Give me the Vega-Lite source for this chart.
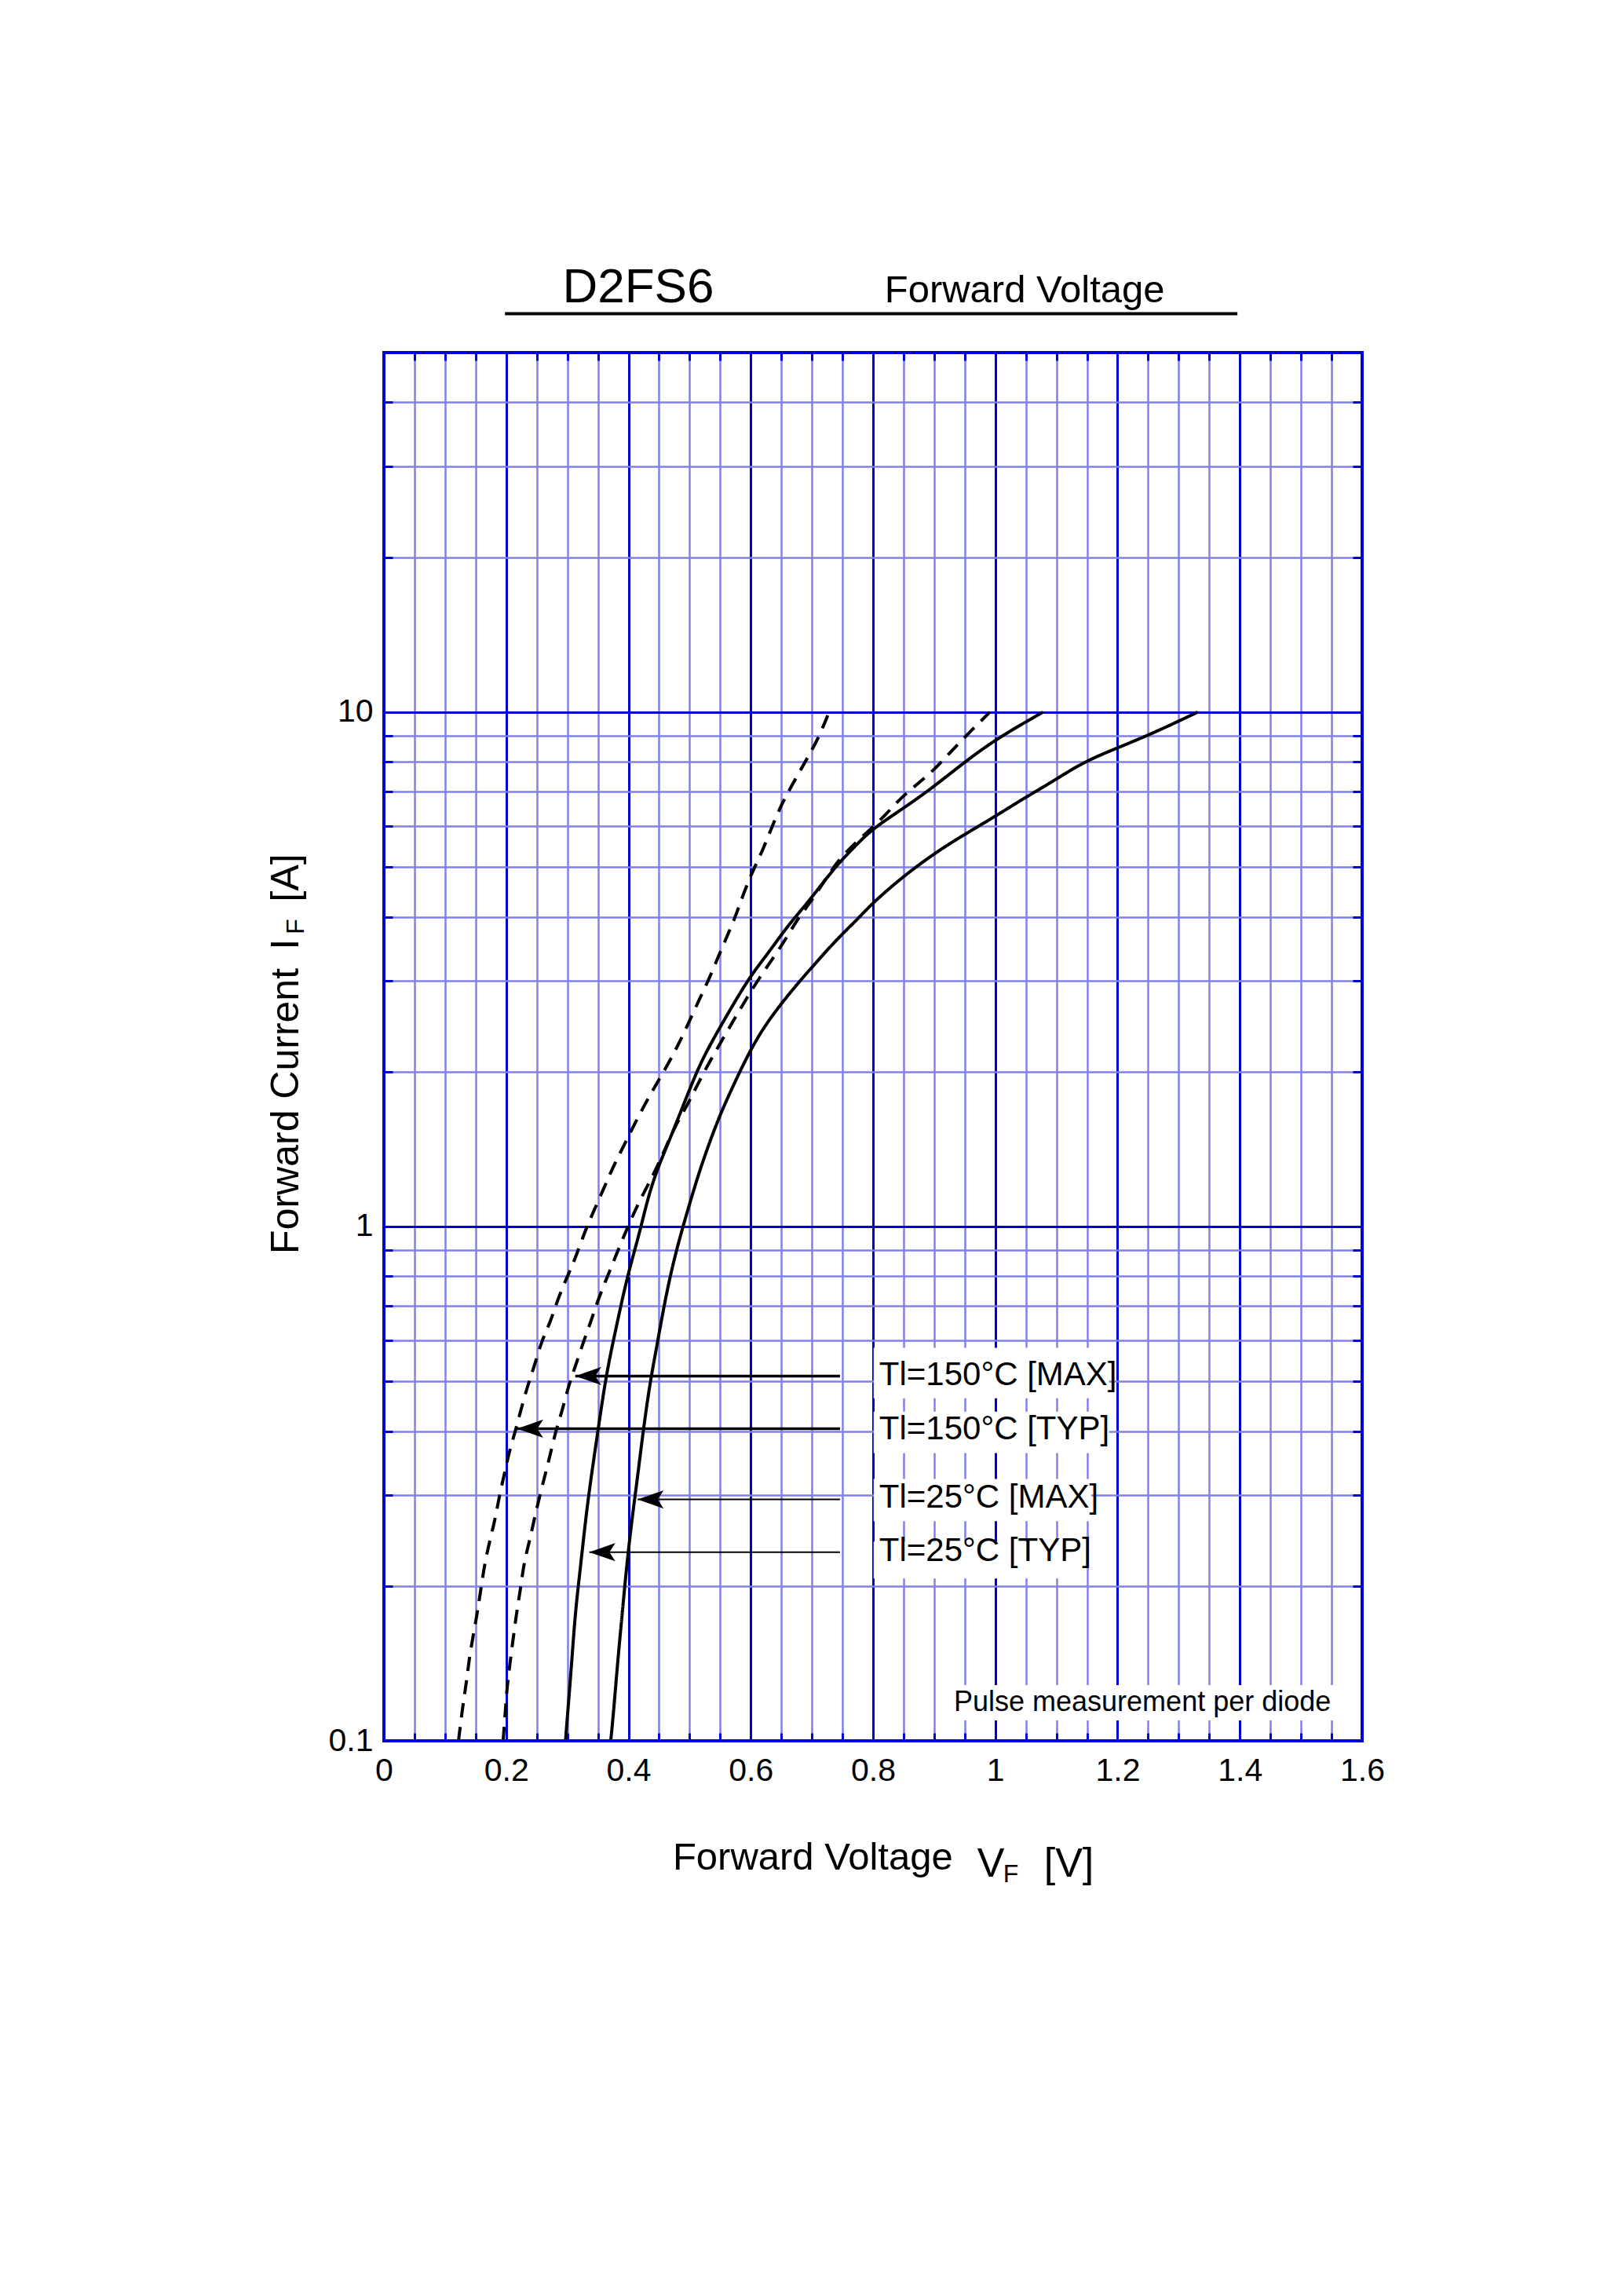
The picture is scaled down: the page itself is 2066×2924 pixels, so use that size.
{
  "$schema": "https://vega.github.io/schema/vega-lite/v6.json",
  "width": 1246,
  "height": 1768,
  "autosize": "none",
  "padding": {"left": 489, "top": 449, "right": 331, "bottom": 707},
  "background": "white",
  "config": {
    "font": "Liberation Sans",
    "view": {"stroke": null}
  },
  "datasets": {
    "curves": [
      {"curve": "150TYP", "kind": "dashed", "v": 0.122, "i": 0.1},
      {"curve": "150TYP", "kind": "dashed", "v": 0.129, "i": 0.117},
      {"curve": "150TYP", "kind": "dashed", "v": 0.135, "i": 0.13},
      {"curve": "150TYP", "kind": "dashed", "v": 0.14, "i": 0.146},
      {"curve": "150TYP", "kind": "dashed", "v": 0.148, "i": 0.165},
      {"curve": "150TYP", "kind": "dashed", "v": 0.154, "i": 0.181},
      {"curve": "150TYP", "kind": "dashed", "v": 0.159, "i": 0.199},
      {"curve": "150TYP", "kind": "dashed", "v": 0.166, "i": 0.225},
      {"curve": "150TYP", "kind": "dashed", "v": 0.175, "i": 0.25},
      {"curve": "150TYP", "kind": "dashed", "v": 0.182, "i": 0.27},
      {"curve": "150TYP", "kind": "dashed", "v": 0.189, "i": 0.3},
      {"curve": "150TYP", "kind": "dashed", "v": 0.197, "i": 0.33},
      {"curve": "150TYP", "kind": "dashed", "v": 0.205, "i": 0.365},
      {"curve": "150TYP", "kind": "dashed", "v": 0.215, "i": 0.4},
      {"curve": "150TYP", "kind": "dashed", "v": 0.224, "i": 0.44},
      {"curve": "150TYP", "kind": "dashed", "v": 0.235, "i": 0.49},
      {"curve": "150TYP", "kind": "dashed", "v": 0.245, "i": 0.53},
      {"curve": "150TYP", "kind": "dashed", "v": 0.258, "i": 0.6},
      {"curve": "150TYP", "kind": "dashed", "v": 0.272, "i": 0.65},
      {"curve": "150TYP", "kind": "dashed", "v": 0.284, "i": 0.72},
      {"curve": "150TYP", "kind": "dashed", "v": 0.298, "i": 0.79},
      {"curve": "150TYP", "kind": "dashed", "v": 0.312, "i": 0.86},
      {"curve": "150TYP", "kind": "dashed", "v": 0.329, "i": 0.98},
      {"curve": "150TYP", "kind": "dashed", "v": 0.342, "i": 1.064},
      {"curve": "150TYP", "kind": "dashed", "v": 0.359, "i": 1.18},
      {"curve": "150TYP", "kind": "dashed", "v": 0.374, "i": 1.3},
      {"curve": "150TYP", "kind": "dashed", "v": 0.391, "i": 1.425},
      {"curve": "150TYP", "kind": "dashed", "v": 0.408, "i": 1.565},
      {"curve": "150TYP", "kind": "dashed", "v": 0.427, "i": 1.73},
      {"curve": "150TYP", "kind": "dashed", "v": 0.444, "i": 1.877},
      {"curve": "150TYP", "kind": "dashed", "v": 0.464, "i": 2.06},
      {"curve": "150TYP", "kind": "dashed", "v": 0.481, "i": 2.25},
      {"curve": "150TYP", "kind": "dashed", "v": 0.498, "i": 2.48},
      {"curve": "150TYP", "kind": "dashed", "v": 0.515, "i": 2.75},
      {"curve": "150TYP", "kind": "dashed", "v": 0.532, "i": 3.03},
      {"curve": "150TYP", "kind": "dashed", "v": 0.547, "i": 3.35},
      {"curve": "150TYP", "kind": "dashed", "v": 0.562, "i": 3.68},
      {"curve": "150TYP", "kind": "dashed", "v": 0.577, "i": 4.06},
      {"curve": "150TYP", "kind": "dashed", "v": 0.59, "i": 4.5},
      {"curve": "150TYP", "kind": "dashed", "v": 0.605, "i": 4.96},
      {"curve": "150TYP", "kind": "dashed", "v": 0.62, "i": 5.4},
      {"curve": "150TYP", "kind": "dashed", "v": 0.635, "i": 6.0},
      {"curve": "150TYP", "kind": "dashed", "v": 0.65, "i": 6.6},
      {"curve": "150TYP", "kind": "dashed", "v": 0.667, "i": 7.2},
      {"curve": "150TYP", "kind": "dashed", "v": 0.689, "i": 8.0},
      {"curve": "150TYP", "kind": "dashed", "v": 0.711, "i": 8.9},
      {"curve": "150TYP", "kind": "dashed", "v": 0.728, "i": 10},
      {"curve": "150MAX", "kind": "dashed", "v": 0.195, "i": 0.1},
      {"curve": "150MAX", "kind": "dashed", "v": 0.198, "i": 0.111},
      {"curve": "150MAX", "kind": "dashed", "v": 0.201, "i": 0.126},
      {"curve": "150MAX", "kind": "dashed", "v": 0.206, "i": 0.141},
      {"curve": "150MAX", "kind": "dashed", "v": 0.212, "i": 0.16},
      {"curve": "150MAX", "kind": "dashed", "v": 0.218, "i": 0.181},
      {"curve": "150MAX", "kind": "dashed", "v": 0.224, "i": 0.199},
      {"curve": "150MAX", "kind": "dashed", "v": 0.229, "i": 0.222},
      {"curve": "150MAX", "kind": "dashed", "v": 0.238, "i": 0.244},
      {"curve": "150MAX", "kind": "dashed", "v": 0.246, "i": 0.27},
      {"curve": "150MAX", "kind": "dashed", "v": 0.255, "i": 0.3},
      {"curve": "150MAX", "kind": "dashed", "v": 0.264, "i": 0.33},
      {"curve": "150MAX", "kind": "dashed", "v": 0.272, "i": 0.36},
      {"curve": "150MAX", "kind": "dashed", "v": 0.281, "i": 0.4},
      {"curve": "150MAX", "kind": "dashed", "v": 0.292, "i": 0.44},
      {"curve": "150MAX", "kind": "dashed", "v": 0.302, "i": 0.49},
      {"curve": "150MAX", "kind": "dashed", "v": 0.312, "i": 0.53},
      {"curve": "150MAX", "kind": "dashed", "v": 0.327, "i": 0.6},
      {"curve": "150MAX", "kind": "dashed", "v": 0.338, "i": 0.65},
      {"curve": "150MAX", "kind": "dashed", "v": 0.35, "i": 0.72},
      {"curve": "150MAX", "kind": "dashed", "v": 0.364, "i": 0.79},
      {"curve": "150MAX", "kind": "dashed", "v": 0.378, "i": 0.87},
      {"curve": "150MAX", "kind": "dashed", "v": 0.396, "i": 0.98},
      {"curve": "150MAX", "kind": "dashed", "v": 0.409, "i": 1.064},
      {"curve": "150MAX", "kind": "dashed", "v": 0.427, "i": 1.175},
      {"curve": "150MAX", "kind": "dashed", "v": 0.444, "i": 1.283},
      {"curve": "150MAX", "kind": "dashed", "v": 0.461, "i": 1.425},
      {"curve": "150MAX", "kind": "dashed", "v": 0.476, "i": 1.565},
      {"curve": "150MAX", "kind": "dashed", "v": 0.496, "i": 1.72},
      {"curve": "150MAX", "kind": "dashed", "v": 0.513, "i": 1.887},
      {"curve": "150MAX", "kind": "dashed", "v": 0.532, "i": 2.085},
      {"curve": "150MAX", "kind": "dashed", "v": 0.553, "i": 2.3},
      {"curve": "150MAX", "kind": "dashed", "v": 0.573, "i": 2.53},
      {"curve": "150MAX", "kind": "dashed", "v": 0.592, "i": 2.76},
      {"curve": "150MAX", "kind": "dashed", "v": 0.613, "i": 3.03},
      {"curve": "150MAX", "kind": "dashed", "v": 0.637, "i": 3.33},
      {"curve": "150MAX", "kind": "dashed", "v": 0.658, "i": 3.63},
      {"curve": "150MAX", "kind": "dashed", "v": 0.677, "i": 3.97},
      {"curve": "150MAX", "kind": "dashed", "v": 0.698, "i": 4.27},
      {"curve": "150MAX", "kind": "dashed", "v": 0.72, "i": 4.69},
      {"curve": "150MAX", "kind": "dashed", "v": 0.743, "i": 5.15},
      {"curve": "150MAX", "kind": "dashed", "v": 0.771, "i": 5.57},
      {"curve": "150MAX", "kind": "dashed", "v": 0.794, "i": 5.89},
      {"curve": "150MAX", "kind": "dashed", "v": 0.82, "i": 6.3},
      {"curve": "150MAX", "kind": "dashed", "v": 0.847, "i": 6.84},
      {"curve": "150MAX", "kind": "dashed", "v": 0.874, "i": 7.27},
      {"curve": "150MAX", "kind": "dashed", "v": 0.901, "i": 7.74},
      {"curve": "150MAX", "kind": "dashed", "v": 0.928, "i": 8.4},
      {"curve": "150MAX", "kind": "dashed", "v": 0.955, "i": 9.06},
      {"curve": "150MAX", "kind": "dashed", "v": 0.991, "i": 10},
      {"curve": "25TYP", "kind": "solid", "v": 0.297, "i": 0.1},
      {"curve": "25TYP", "kind": "solid", "v": 0.301, "i": 0.115},
      {"curve": "25TYP", "kind": "solid", "v": 0.307, "i": 0.141},
      {"curve": "25TYP", "kind": "solid", "v": 0.313, "i": 0.178},
      {"curve": "25TYP", "kind": "solid", "v": 0.321, "i": 0.215},
      {"curve": "25TYP", "kind": "solid", "v": 0.33, "i": 0.27},
      {"curve": "25TYP", "kind": "solid", "v": 0.338, "i": 0.32},
      {"curve": "25TYP", "kind": "solid", "v": 0.35, "i": 0.4},
      {"curve": "25TYP", "kind": "solid", "v": 0.364, "i": 0.52},
      {"curve": "25TYP", "kind": "solid", "v": 0.381, "i": 0.645},
      {"curve": "25TYP", "kind": "solid", "v": 0.398, "i": 0.8},
      {"curve": "25TYP", "kind": "solid", "v": 0.418, "i": 0.969},
      {"curve": "25TYP", "kind": "solid", "v": 0.431, "i": 1.128},
      {"curve": "25TYP", "kind": "solid", "v": 0.446, "i": 1.283},
      {"curve": "25TYP", "kind": "solid", "v": 0.464, "i": 1.442},
      {"curve": "25TYP", "kind": "solid", "v": 0.481, "i": 1.62},
      {"curve": "25TYP", "kind": "solid", "v": 0.498, "i": 1.822},
      {"curve": "25TYP", "kind": "solid", "v": 0.519, "i": 2.097},
      {"curve": "25TYP", "kind": "solid", "v": 0.545, "i": 2.385},
      {"curve": "25TYP", "kind": "solid", "v": 0.575, "i": 2.75},
      {"curve": "25TYP", "kind": "solid", "v": 0.601, "i": 3.086},
      {"curve": "25TYP", "kind": "solid", "v": 0.631, "i": 3.43},
      {"curve": "25TYP", "kind": "solid", "v": 0.661, "i": 3.85},
      {"curve": "25TYP", "kind": "solid", "v": 0.691, "i": 4.23},
      {"curve": "25TYP", "kind": "solid", "v": 0.72, "i": 4.69},
      {"curve": "25TYP", "kind": "solid", "v": 0.743, "i": 5.07},
      {"curve": "25TYP", "kind": "solid", "v": 0.77, "i": 5.48},
      {"curve": "25TYP", "kind": "solid", "v": 0.799, "i": 5.93},
      {"curve": "25TYP", "kind": "solid", "v": 0.847, "i": 6.47},
      {"curve": "25TYP", "kind": "solid", "v": 0.892, "i": 7.05},
      {"curve": "25TYP", "kind": "solid", "v": 0.946, "i": 7.93},
      {"curve": "25TYP", "kind": "solid", "v": 1.0, "i": 8.85},
      {"curve": "25TYP", "kind": "solid", "v": 1.078, "i": 10},
      {"curve": "25MAX", "kind": "solid", "v": 0.371, "i": 0.1},
      {"curve": "25MAX", "kind": "solid", "v": 0.376, "i": 0.115},
      {"curve": "25MAX", "kind": "solid", "v": 0.382, "i": 0.141},
      {"curve": "25MAX", "kind": "solid", "v": 0.39, "i": 0.178},
      {"curve": "25MAX", "kind": "solid", "v": 0.398, "i": 0.225},
      {"curve": "25MAX", "kind": "solid", "v": 0.407, "i": 0.277},
      {"curve": "25MAX", "kind": "solid", "v": 0.4155, "i": 0.33},
      {"curve": "25MAX", "kind": "solid", "v": 0.424, "i": 0.4},
      {"curve": "25MAX", "kind": "solid", "v": 0.4355, "i": 0.5},
      {"curve": "25MAX", "kind": "solid", "v": 0.447, "i": 0.59},
      {"curve": "25MAX", "kind": "solid", "v": 0.458, "i": 0.7},
      {"curve": "25MAX", "kind": "solid", "v": 0.472, "i": 0.84},
      {"curve": "25MAX", "kind": "solid", "v": 0.487, "i": 0.98},
      {"curve": "25MAX", "kind": "solid", "v": 0.502, "i": 1.128},
      {"curve": "25MAX", "kind": "solid", "v": 0.519, "i": 1.314},
      {"curve": "25MAX", "kind": "solid", "v": 0.545, "i": 1.6},
      {"curve": "25MAX", "kind": "solid", "v": 0.566, "i": 1.82},
      {"curve": "25MAX", "kind": "solid", "v": 0.588, "i": 2.07},
      {"curve": "25MAX", "kind": "solid", "v": 0.613, "i": 2.357},
      {"curve": "25MAX", "kind": "solid", "v": 0.643, "i": 2.65},
      {"curve": "25MAX", "kind": "solid", "v": 0.678, "i": 2.98},
      {"curve": "25MAX", "kind": "solid", "v": 0.708, "i": 3.27},
      {"curve": "25MAX", "kind": "solid", "v": 0.742, "i": 3.63},
      {"curve": "25MAX", "kind": "solid", "v": 0.776, "i": 3.97},
      {"curve": "25MAX", "kind": "solid", "v": 0.797, "i": 4.23},
      {"curve": "25MAX", "kind": "solid", "v": 0.847, "i": 4.77},
      {"curve": "25MAX", "kind": "solid", "v": 0.901, "i": 5.32},
      {"curve": "25MAX", "kind": "solid", "v": 0.946, "i": 5.75},
      {"curve": "25MAX", "kind": "solid", "v": 1.0, "i": 6.27},
      {"curve": "25MAX", "kind": "solid", "v": 1.045, "i": 6.78},
      {"curve": "25MAX", "kind": "solid", "v": 1.09, "i": 7.28},
      {"curve": "25MAX", "kind": "solid", "v": 1.144, "i": 8.0},
      {"curve": "25MAX", "kind": "solid", "v": 1.198, "i": 8.5},
      {"curve": "25MAX", "kind": "solid", "v": 1.261, "i": 9.13},
      {"curve": "25MAX", "kind": "solid", "v": 1.331, "i": 10}
    ],
    "arrows": [
      {"temp": "150", "v": 0.313, "v2": 0.746, "i": 0.512},
      {"temp": "150", "v": 0.218, "v2": 0.746, "i": 0.4045},
      {"temp": "25", "v": 0.415, "v2": 0.746, "i": 0.2946},
      {"temp": "25", "v": 0.336, "v2": 0.746, "i": 0.2327}
    ],
    "boxes": [
      {"v": 0.801, "v2": 1.186, "i": 0.4636, "i2": 0.581},
      {"v": 0.801, "v2": 1.186, "i": 0.3626, "i2": 0.4365},
      {"v": 0.801, "v2": 1.157, "i": 0.2673, "i2": 0.3228},
      {"v": 0.801, "v2": 1.144, "i": 0.2068, "i2": 0.2439},
      {"v": 0.928, "v2": 1.561, "i": 0.1096, "i2": 0.1283}
    ],
    "labels": [
      {"label": "Tl=150°C [MAX]", "v": 0.81, "i": 0.492},
      {"label": "Tl=150°C [TYP]", "v": 0.81, "i": 0.385},
      {"label": "Tl=25°C [MAX]", "v": 0.81, "i": 0.2838},
      {"label": "Tl=25°C [TYP]", "v": 0.81, "i": 0.2234}
    ],
    "notes": [
      {"role": "model", "text": "D2FS6", "v": 0.416, "i": 62.7},
      {"role": "caption", "text": "Forward  Voltage", "v": 1.048, "i": 62.7},
      {"role": "pulse", "text": "Pulse  measurement  per  diode", "v": 1.549, "i": 0.1143},
      {"role": "xt", "text": "Forward Voltage", "v": 0.4724, "i": 0.05623},
      {"role": "xsym", "text": "V", "v": 0.9705, "i": 0.0545},
      {"role": "xsub", "text": "F", "v": 1.0128, "i": 0.05315},
      {"role": "xsym", "text": "[V]", "v": 1.0796, "i": 0.0545},
      {"role": "yt", "text": "Forward Current", "v": -0.14, "i": 0.8843},
      {"role": "yt", "text": "I", "v": -0.14, "i": 3.452},
      {"role": "ysub", "text": "F", "v": -0.131, "i": 3.7},
      {"role": "yt", "text": "[A]", "v": -0.14, "i": 4.277}
    ],
    "frame": [
      {"v": 0, "v2": 1.6, "i": 0.1, "i2": 50}
    ],
    "underline": [
      {"v": 0.198, "v2": 1.396, "i": 59.5}
    ]
  },
  "encoding": {
    "x": {"field": "v", "type": "quantitative", "scale": {"domain": [0, 1.6], "nice": false, "zero": false}, "axis": null},
    "y": {"field": "i", "type": "quantitative", "scale": {"type": "log", "domain": [0.1, 50], "nice": false}, "axis": null}
  },
  "layer": [
    {
      "data": {"name": "curves"},
      "mark": {"type": "line", "color": "black", "strokeWidth": 4, "interpolate": "basis"},
      "encoding": {
        "x": {
          "field": "v", "type": "quantitative",
          "scale": {"domain": [0, 1.6], "nice": false, "zero": false},
          "axis": {
            "orient": "bottom",
            "values": [0, 0.05, 0.1, 0.15, 0.2, 0.25, 0.3, 0.35, 0.4, 0.45, 0.5, 0.55, 0.6, 0.65, 0.7, 0.75, 0.8, 0.85, 0.9, 0.95, 1, 1.05, 1.1, 1.15, 1.2, 1.25, 1.3, 1.35, 1.4, 1.45, 1.5, 1.55, 1.6],
            "grid": true,
            "gridColor": {"condition": {"test": "abs(datum.value*5 - round(datum.value*5)) < 0.001", "value": "#0000D2"}, "value": "#8080E8"},
            "gridWidth": {"condition": {"test": "abs(datum.value*5 - round(datum.value*5)) < 0.001", "value": 3}, "value": 2.5},
            "gridOpacity": 1,
            "domain": false,
            "ticks": true,
            "tickColor": "#0000D2",
            "tickWidth": 3,
            "tickSize": -10,
            "labelExpr": "abs(datum.value*5 - round(datum.value*5)) < 0.001 ? format(datum.value, '~g') : ''",
            "labelFont": "Liberation Sans",
            "labelFontSize": 41,
            "labelColor": "black",
            "labelPadding": 28,
            "labelOverlap": false,
            "labelFlush": false,
            "title": null
          }
        },
        "y": {
          "field": "i", "type": "quantitative",
          "scale": {"type": "log", "domain": [0.1, 50], "nice": false},
          "axis": {
            "orient": "left",
            "values": [0.1, 0.2, 0.3, 0.4, 0.5, 0.6, 0.7, 0.8, 0.9, 1, 2, 3, 4, 5, 6, 7, 8, 9, 10, 20, 30, 40, 50],
            "grid": true,
            "gridColor": {"condition": {"test": "datum.value == 1 || datum.value == 10", "value": "#0000D2"}, "value": "#8080E8"},
            "gridWidth": {"condition": {"test": "datum.value == 1 || datum.value == 10", "value": 3}, "value": 2.5},
            "gridOpacity": 1,
            "domain": false,
            "ticks": true,
            "tickColor": "#0000D2",
            "tickWidth": 3,
            "tickSize": -11,
            "labelExpr": "datum.value == 0.1 || datum.value == 1 || datum.value == 10 ? format(datum.value, '~g') : ''",
            "labelFont": "Liberation Sans",
            "labelFontSize": 41,
            "labelColor": "black",
            "labelPadding": 25,
            "labelOverlap": false,
            "labelFlush": false,
            "title": null
          }
        },
        "detail": {"field": "curve", "type": "nominal"},
        "strokeDash": {
          "field": "kind", "type": "nominal",
          "scale": {"domain": ["dashed", "solid"], "range": [[18, 12], [1, 0]]},
          "legend": null
        }
      }
    },
    {
      "data": {"name": "boxes"},
      "mark": {"type": "rect", "fill": "white", "stroke": null},
      "encoding": {
        "x2": {"field": "v2"},
        "y2": {"field": "i2"}
      }
    },
    {
      "data": {"name": "arrows"},
      "mark": {"type": "rule", "color": "black"},
      "encoding": {
        "x2": {"field": "v2"},
        "strokeWidth": {"field": "temp", "type": "nominal", "scale": {"domain": ["150", "25"], "range": [3.5, 2]}, "legend": null}
      }
    },
    {
      "data": {"name": "arrows"},
      "mark": {"type": "point", "shape": "M-1,0L1,-0.7L0.55,0L1,0.7Z", "size": 1100, "filled": true, "color": "black", "opacity": 1, "strokeWidth": 0, "xOffset": 16.5},
      "encoding": {}
    },
    {
      "data": {"name": "labels"},
      "mark": {"type": "text", "align": "left", "baseline": "alphabetic", "font": "Liberation Sans", "fontSize": 42, "color": "black"},
      "encoding": {"text": {"field": "label"}}
    },
    {
      "data": {"name": "notes"},
      "transform": [{"filter": "datum.role == 'model'"}],
      "mark": {"type": "text", "align": "center", "baseline": "alphabetic", "font": "Liberation Sans", "fontSize": 62, "color": "black"},
      "encoding": {"text": {"field": "text"}}
    },
    {
      "data": {"name": "notes"},
      "transform": [{"filter": "datum.role == 'caption'"}],
      "mark": {"type": "text", "align": "center", "baseline": "alphabetic", "font": "Liberation Sans", "fontSize": 49, "color": "black"},
      "encoding": {"text": {"field": "text"}}
    },
    {
      "data": {"name": "notes"},
      "transform": [{"filter": "datum.role == 'pulse'"}],
      "mark": {"type": "text", "align": "right", "baseline": "alphabetic", "font": "Liberation Sans", "fontSize": 36, "color": "black"},
      "encoding": {"text": {"field": "text"}}
    },
    {
      "data": {"name": "notes"},
      "transform": [{"filter": "datum.role == 'xt'"}],
      "mark": {"type": "text", "align": "left", "baseline": "alphabetic", "font": "Liberation Sans", "fontSize": 49, "color": "black"},
      "encoding": {"text": {"field": "text"}}
    },
    {
      "data": {"name": "notes"},
      "transform": [{"filter": "datum.role == 'xsym'"}],
      "mark": {"type": "text", "align": "left", "baseline": "alphabetic", "font": "Liberation Sans", "fontSize": 52, "color": "black"},
      "encoding": {"text": {"field": "text"}}
    },
    {
      "data": {"name": "notes"},
      "transform": [{"filter": "datum.role == 'xsub'"}],
      "mark": {"type": "text", "align": "left", "baseline": "alphabetic", "font": "Liberation Sans", "fontSize": 32, "color": "black"},
      "encoding": {"text": {"field": "text"}}
    },
    {
      "data": {"name": "notes"},
      "transform": [{"filter": "datum.role == 'yt'"}],
      "mark": {"type": "text", "align": "left", "baseline": "alphabetic", "angle": 270, "font": "Liberation Sans", "fontSize": 50, "color": "black"},
      "encoding": {"text": {"field": "text"}}
    },
    {
      "data": {"name": "notes"},
      "transform": [{"filter": "datum.role == 'ysub'"}],
      "mark": {"type": "text", "align": "left", "baseline": "alphabetic", "angle": 270, "font": "Liberation Sans", "fontSize": 32, "color": "black"},
      "encoding": {"text": {"field": "text"}}
    },
    {
      "data": {"name": "underline"},
      "mark": {"type": "rule", "color": "black", "strokeWidth": 4},
      "encoding": {"x2": {"field": "v2"}}
    },
    {
      "data": {"name": "frame"},
      "mark": {"type": "rect", "fill": null, "fillOpacity": 0, "stroke": "#0000D2", "strokeWidth": 4},
      "encoding": {
        "x": {
          "field": "v", "type": "quantitative",
          "scale": {"domain": [0, 1.6], "nice": false, "zero": false},
          "axis": {
            "orient": "top",
            "values": [0, 0.05, 0.1, 0.15, 0.2, 0.25, 0.3, 0.35, 0.4, 0.45, 0.5, 0.55, 0.6, 0.65, 0.7, 0.75, 0.8, 0.85, 0.9, 0.95, 1, 1.05, 1.1, 1.15, 1.2, 1.25, 1.3, 1.35, 1.4, 1.45, 1.5, 1.55, 1.6],
            "grid": false, "domain": false, "labels": false,
            "tickColor": "#0000D2", "tickWidth": 3, "tickSize": -10,
            "title": null
          }
        },
        "x2": {"field": "v2"},
        "y": {
          "field": "i", "type": "quantitative",
          "scale": {"type": "log", "domain": [0.1, 50], "nice": false},
          "axis": {
            "orient": "right",
            "values": [0.1, 0.2, 0.3, 0.4, 0.5, 0.6, 0.7, 0.8, 0.9, 1, 2, 3, 4, 5, 6, 7, 8, 9, 10, 20, 30, 40, 50],
            "grid": false, "domain": false, "labels": false,
            "tickColor": "#0000D2", "tickWidth": 3, "tickSize": -12,
            "title": null
          }
        },
        "y2": {"field": "i2"}
      }
    }
  ],
  "resolve": {"axis": {"x": "independent", "y": "independent"}}
}
